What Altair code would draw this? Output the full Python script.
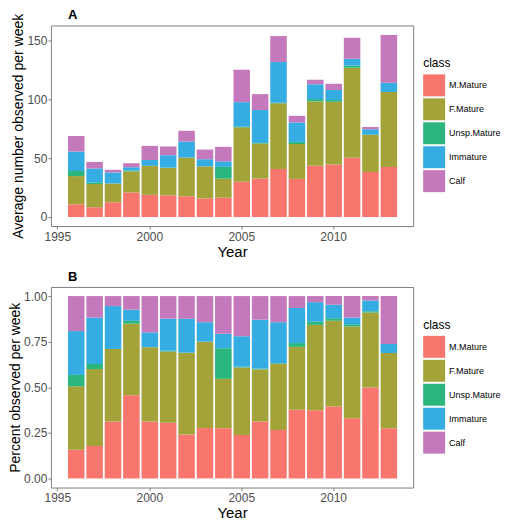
import altair as alt
import pandas as pd

years = list(range(1996, 2014))
classes = ["M.Mature", "F.Mature", "Unsp.Mature", "Immature", "Calf"]
m_mature = [10.8, 8.3, 12.5, 20.8, 18.8, 18.3, 17.6, 15.8, 16.4, 29.8, 32.6, 40.8, 32.3, 43.5, 44.5, 50.2, 38.1, 42.4]
f_mature = [23.9, 19.7, 15.9, 17.9, 24.6, 23.3, 32.8, 27.1, 16.1, 46.2, 29.7, 55.6, 29.6, 54.5, 53.2, 76.4, 31.4, 63.7]
unsp_mature = [4.3, 1.3, 0, 0.7, 0, 0.3, 0, 0, 10.0, 0.5, 0.5, 0.5, 1.8, 2.0, 1.6, 1.9, 0.5, 0]
immature = [16.5, 11.9, 9.4, 2.8, 4.9, 10.5, 13.6, 6.1, 4.7, 20.9, 27.9, 34.5, 16.5, 12.5, 8.4, 5.6, 4.5, 7.7]
calf = [13.2, 5.5, 2.2, 3.4, 12.0, 7.4, 9.1, 8.2, 12.3, 27.5, 13.5, 22.0, 5.6, 3.9, 5.3, 17.8, 1.9, 40.5]
colors = ["#F8766D", "#A3A33A", "#2BB67E", "#35ACE2", "#C479BC"]
panel_tags = ["A", "B"]

series = [m_mature, f_mature, unsp_mature, immature, calf]
rows = []
for i, y in enumerate(years):
    for k, cname in enumerate(classes):
        rows.append({"Year": y, "class": cname, "idx": k, "Count": series[k][i]})
df = pd.DataFrame(rows)

PLOT_W = 363
PLOT_H = 201
LEG_X = 373


def panel(stack, ytitle, ydomain, yvalues, label_expr, tag):
    bars = (
        alt.Chart(df)
        .transform_calculate(x0="datum.Year - 0.45", x1="datum.Year + 0.45")
        .mark_bar(binSpacing=0)
        .encode(
            x=alt.X(
                "x0:Q",
                bin="binned",
                scale=alt.Scale(domain=[1994.65, 2014.35], nice=False, zero=False),
                axis=alt.Axis(values=[1995, 2000, 2005, 2010], format="d", title="Year",
                              titleFontSize=15, titlePadding=2, labelPadding=2),
            ),
            x2="x1:Q",
            y=alt.Y(
                "Count:Q",
                stack=stack,
                scale=alt.Scale(domain=ydomain, nice=False, zero=False),
                axis=alt.Axis(values=yvalues, labelExpr=label_expr, title=ytitle,
                              titleFontSize=14, titlePadding=1, labelPadding=1),
            ),
            color=alt.Color(
                "class:N",
                scale=alt.Scale(domain=classes, range=colors),
                legend=alt.Legend(
                    title="class",
                    orient="none",
                    legendX=LEG_X,
                    legendY=33,
                    symbolType="square",
                    symbolSize=484,
                    symbolStrokeWidth=0,
                    symbolOpacity=1,
                    titleFontSize=12,
                    titleFontWeight="normal",
                    titleColor="#000000",
                    labelFontSize=9,
                    labelColor="#000000",
                    rowPadding=2,
                    titlePadding=4,
                    labelOffset=4,
                    padding=0,
                ),
            ),
            order=alt.Order("idx:Q", sort="ascending"),
        )
    )
    label = (
        alt.Chart(pd.DataFrame({"tag": [tag]}))
        .mark_text(align="left", baseline="alphabetic", fontSize=13, fontWeight="bold", color="#000000")
        .encode(x=alt.value(17), y=alt.value(-6), text="tag:N")
    )
    return alt.layer(bars, label).properties(width=PLOT_W, height=PLOT_H)


a = panel(True, "Average number observed per week", [-7.7, 162.4], [0, 50, 100, 150],
          "format(datum.value, 'd')", panel_tags[0])
b = panel("normalize", "Percent observed per week", [-0.05, 1.05], [0, 0.25, 0.5, 0.75, 1.0],
          "format(datum.value, '.2f')", panel_tags[1])

chart = (
    alt.vconcat(a, b, spacing=10)
    .resolve_scale(color="independent")
    .properties(padding=0)
    .configure(font="Liberation Sans")
    .configure_view(stroke="#7F7F7F", strokeWidth=1)
    .configure_axis(
        domain=False,
        grid=False,
        ticks=True,
        tickColor="#7F7F7F",
        tickSize=3,
        labelFontSize=12,
        labelColor="#4D4D4D",
        titleFontWeight="normal",
        titleColor="#000000",
    )
)

chart.save("out.html", embed_options={"renderer": "svg", "actions": False})
